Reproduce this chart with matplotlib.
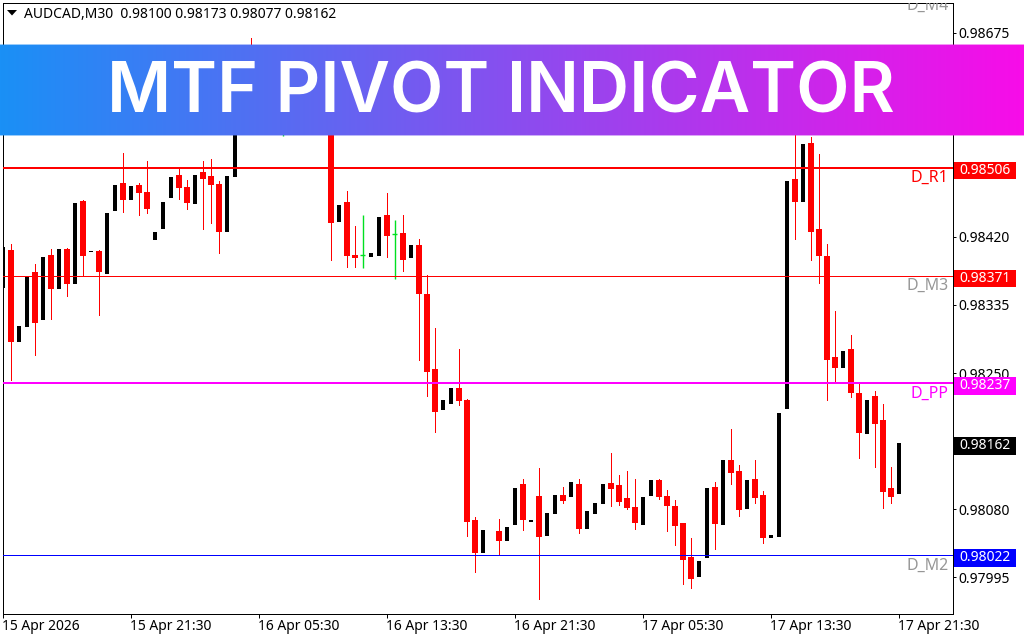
import numpy as np
from matplotlib import pyplot as plt
from matplotlib.colors import to_rgb
from matplotlib.patches import Polygon, Rectangle
from matplotlib.transforms import blended_transform_factory

# prices are in points (1e-5). bars 30-40 sit behind the banner, so those are guesses
nan = np.nan
opens = [98358, 98404, 98290, 98309, 98376, 98317, 98397, 98356, 98405, 98363,
         98465, 98402, 98402, 98375, 98454, 98488, 98467, 98485, 98476, 98417,
         98431, 98470, 98497, 98482, 98462, 98501, 98496, 98486, 98428, 98496,
         98560, 98640, 98590, 98630, 98580, 98600, 98610, 98575, 98620, 98585,
         98625, 98570, 98440, 98464, 98398, 98397, 98396, 98397, 98447, 98424,
         98425, 98395, 98410, 98349, 98255, 98205, 98212, 98231, 98216, 98066,
         98026, nan, 98052, 98041, 98061, 98111, 98065, 98096, 98048, 98075,
         98097, 98096, 98111, 98056, 98075, 98087, 98112, 98110, 98094, 98082,
         98061, 98097, 98116, 98096, 98084, 98062, 98020, 97996, 98020, 98108,
         98061, 98141, 98128, 98081, 98118, 98097, 98045, 98046, 98206, 98492,
         98465, 98538, 98430, 98396, 98270, 98258, 98280, 98225, 98175, 98221,
         98191, 98106, 98100]
highs = [98408, 98411, 98309, 98371, 98386, 98395, 98405, 98405, 98406, 98462,
         98466, 98403, 98404, 98450, 98485, 98525, 98484, 98488, 98515, 98426,
         98464, 98495, 98505, 98491, 98498, 98515, 98518, 98490, 98496, 98566,
         98640, 98669, 98630, 98640, 98620, 98640, 98625, 98615, 98635, 98625,
         98640, 98590, 98460, 98477, 98434, 98447, 98400, 98445, 98475, 98441,
         98447, 98410, 98418, 98372, 98306, 98216, 98231, 98280, 98217, 98070,
         98054, nan, 98068, 98058, 98106, 98118, 98066, 98131, 98075, 98097,
         98107, 98114, 98118, 98077, 98087, 98111, 98150, 98122, 98127, 98117,
         98095, 98116, 98117, 98104, 98091, 98062, 98044, 98015, 98106, 98114,
         98141, 98180, 98135, 98116, 98141, 98102, 98047, 98200, 98490, 98560,
         98536, 98545, 98524, 98411, 98327, 98277, 98298, 98236, 98216, 98227,
         98211, 98132, 98173]
lows = [98358, 98241, 98290, 98309, 98272, 98317, 98317, 98356, 98346, 98363,
        98372, 98402, 98322, 98375, 98454, 98451, 98467, 98448, 98450, 98417,
        98431, 98470, 98468, 98455, 98462, 98430, 98438, 98400, 98428, 98496,
        98560, 98590, 98590, 98570, 98580, 98546, 98565, 98575, 98570, 98585,
        98560, 98391, 98440, 98382, 98382, 98381, 98396, 98397, 98395, 98367,
        98377, 98395, 98266, 98221, 98176, 98205, 98212, 98210, 98046, 98001,
        98026, nan, 98024, 98041, 98061, 98054, 98065, 97967, 98048, 98075,
        98087, 98096, 98050, 98056, 98075, 98087, 98084, 98085, 98080, 98055,
        98061, 98097, 98092, 98052, 98035, 97986, 97981, 97996, 98020, 98030,
        98061, 98111, 98071, 98081, 98087, 98038, 98045, 98046, 98206, 98417,
        98465, 98391, 98362, 98216, 98237, 98258, 98220, 98144, 98175, 98132,
        98081, 98087, 98077]
closes = [98408, 98290, 98309, 98371, 98314, 98395, 98356, 98405, 98362, 98462,
          98398, 98403, 98377, 98450, 98485, 98467, 98484, 98476, 98456, 98426,
          98464, 98495, 98482, 98464, 98498, 98494, 98486, 98428, 98496, 98566,
          98640, 98600, 98630, 98590, 98620, 98600, 98580, 98615, 98590, 98625,
          98570, 98439, 98460, 98397, 98395, 98397, 98400, 98445, 98422, 98424,
          98392, 98410, 98350, 98252, 98202, 98216, 98231, 98216, 98065, 98026,
          98054, nan, 98041, 98058, 98106, 98067, 98066, 98046, 98075, 98097,
          98091, 98114, 98056, 98077, 98087, 98111, 98106, 98090, 98082, 98064,
          98095, 98116, 98096, 98085, 98060, 98017, 97994, 98015, 98106, 98062,
          98141, 98126, 98080, 98116, 98095, 98045, 98047, 98200, 98490, 98465,
          98536, 98427, 98397, 98267, 98257, 98277, 98226, 98176, 98216, 98187,
          98102, 98096, 98162]

level_names = ['D_M4', 'D_R1', 'D_M3', 'D_PP', 'D_M2']
level_prices = [98722, 98506, 98371, 98237, 98022]
level_colors = ['#ff0000', '#ff0000', '#ff0000', '#ff00ff', '#0000ff']
level_widths = [1, 2, 1, 2, 1]
label_colors = ['#969696', '#ff0000', '#969696', '#ff00ff', '#969696']

y_ticks = [98675, 98590, 98505, 98420, 98335, 98250, 98165, 98080, 97995]
x_ticks = [0, 16, 32, 48, 64, 80, 96, 112]
x_labels = ['15 Apr 2026', '15 Apr 21:30', '16 Apr 05:30', '16 Apr 13:30',
            '16 Apr 21:30', '17 Apr 05:30', '17 Apr 13:30', '17 Apr 21:30']

plt.rcParams['font.family'] = 'Noto Sans'
px = 0.72  # one pixel in points at dpi 100
W, H = 1024, 640

fig = plt.figure(figsize=(10.24, 6.4), dpi=100, facecolor='white')
ax = fig.add_axes([2.5 / W, 1 - 613.5 / H, 950 / W, 611 / H])
ax.set_xlim(0.0, 118.75)
ax.set_ylim(0.979494, 0.987131)
for s in ax.spines.values():
    s.set_linewidth(px)
    s.set_color('black')

o = np.array(opens) / 1e5
h = np.array(highs) / 1e5
l = np.array(lows) / 1e5
c = np.array(closes) / 1e5
x = np.arange(len(o))

up = c > o
down = c < o
doji = c == o

# black bars have no visible wick on this chart
ax.bar(x[up], (c - o)[up], bottom=o[up], width=2.4 / 8, color='black', edgecolor='black',
       linewidth=px, antialiased=False, zorder=3)
ax.vlines(x[down], l[down], h[down], color='#ff0000', linewidth=px, antialiased=False, zorder=3)
ax.bar(x[down], (o - c)[down], bottom=c[down], width=4.4 / 8, color='#ff0000', edgecolor='#ff0000',
       linewidth=px, antialiased=False, zorder=3)
for i in x[doji]:
    ax.plot([i, i], [l[i], h[i]], color='#00e020', linewidth=1.0, solid_capstyle='butt', zorder=3)
    ax.plot([i - 2.5 / 8, i + 2.5 / 8], [c[i], c[i]], color='#00e020', linewidth=1.0,
            solid_capstyle='butt', zorder=3)

tag_tf = blended_transform_factory(fig.transFigure, ax.transData)
for name, p, col, lw, lab in zip(level_names, level_prices, level_colors, level_widths, label_colors):
    price = p / 1e5
    ax.axhline(price, color=col, linewidth=lw * px, antialiased=False, zorder=4)
    ax.annotate(name, xy=(1, price), xycoords=('axes fraction', 'data'), xytext=(-4, -10),
                textcoords='offset pixels', ha='right', va='center', color=lab, fontsize=11.5,
                annotation_clip=False, clip_on=True, zorder=4)


def price_tag(price, col):
    ax.add_patch(Rectangle((954 / W, price - 14e-5), 62 / W, 21.5e-5, transform=tag_tf,
                           facecolor=col, edgecolor='none', clip_on=False, zorder=6))
    ax.text(959 / W, price - 3e-5, f'{price:.5f}', transform=tag_tf, color='white', fontsize=10,
            ha='left', va='center', clip_on=False, zorder=7)


for p, col in zip(level_prices[1:], level_colors[1:]):
    price_tag(p / 1e5, col)
price_tag(closes[-1] / 1e5, 'black')

ax.yaxis.tick_right()
ax.set_yticks(np.array(y_ticks) / 1e5)
ax.set_yticklabels([f'{v / 1e5:.5f}' for v in y_ticks])
ax.set_xticks(x_ticks)
ax.set_xticklabels(x_labels, ha='left')
ax.tick_params(axis='y', length=3 * px, width=px, pad=2, labelsize=10)
ax.tick_params(axis='x', length=4 * px, width=px, pad=1, labelsize=10)

# header of the terminal
fig.add_artist(Polygon([[7 / W, 1 - 10 / H], [17 / W, 1 - 10 / H], [12 / W, 1 - 15.5 / H]],
                       closed=True, transform=fig.transFigure, facecolor='black', edgecolor='none'))
fig.text(24 / W, 1 - 14 / H, f'AUDCAD,M30  {opens[-1] / 1e5:.5f} {highs[-1] / 1e5:.5f} '
         f'{lows[-1] / 1e5:.5f} {closes[-1] / 1e5:.5f}', fontsize=10, ha='left', va='center')

# banner with left to right gradient, edge rows half transparent
left_col = np.array(to_rgb('#1a90f6'))
right_col = np.array(to_rgb('#f80ce8'))
t = np.linspace(0, 1, W)[None, :, None]
grad = left_col[None, None, :] * (1 - t) + right_col[None, None, :] * t
grad = np.repeat(grad, 92, axis=0)
alpha = np.ones((92, W, 1))
alpha[0] = 0.45
alpha[-1] = 0.45
banner = fig.add_axes([0, 1 - 136 / H, 1, 92 / H], zorder=5)
banner.imshow(np.concatenate([grad, alpha], axis=2), aspect='auto', interpolation='nearest')
banner.axis('off')
banner.patch.set_alpha(0)
fig.text(500.5 / W, 1 - 94 / H, 'MTF PIVOT INDICATOR', color='white', family='Inter', weight='semibold',
         fontsize=50, ha='center', va='center', zorder=8)

plt.savefig('out.png', dpi=100)
